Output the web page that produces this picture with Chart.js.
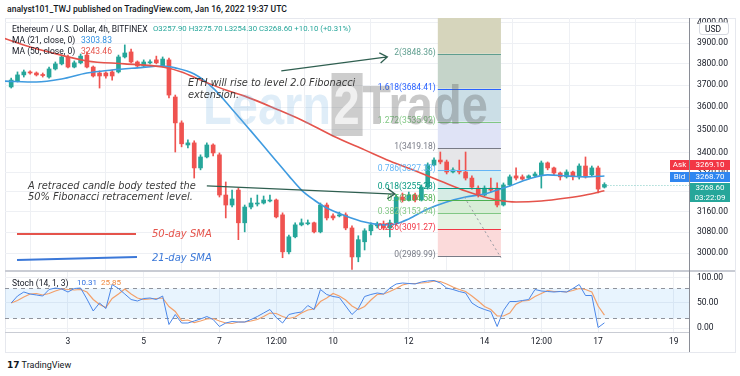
<!DOCTYPE html>
<html>
<head>
<meta charset="utf-8">
<script src="https://cdn.jsdelivr.net/npm/chart.js@4.4.1/dist/chart.umd.min.js"></script>
<style>
  body { margin: 0; background: #fff; }
  #wrap { position: relative; width: 740px; height: 376px; overflow: hidden; font-family: Roboto, "Liberation Sans", sans-serif; }
  .t { position: absolute; white-space: nowrap; line-height: 1; }
  .note { font-family: "DejaVu Sans", sans-serif; font-style: italic; font-size: 9.8px; color: #3a3a3a; }
  .tag { position: absolute; color: #fff; font-size: 8px; line-height: 10px; height: 10px; text-align: center; }
  canvas { position: absolute; }
</style>
</head>
<body>
<div id="wrap">
  <div style="position:absolute;left:5px;top:18px;width:729px;height:333px;border:1px solid #e6e8ee;"></div>
  <canvas id="main" width="730" height="253" style="left:5px;top:18px"></canvas>
  <canvas id="stoch" width="730" height="80" style="left:5px;top:272px"></canvas>
  <div style="position:absolute;left:5px;top:270px;width:730px;height:2px;background:#c9ccd4;"></div>
  <div style="position:absolute;left:5px;top:332px;width:684px;height:1px;background:#c9ccd4;"></div>
  <div style="position:absolute;left:689px;top:18px;width:1px;height:334px;background:#8a8d96;"></div>

  <div id="wm" style="position:absolute;left:203px;top:72px;font:bold 56px 'Liberation Sans';transform:scaleX(0.84);transform-origin:0 0;white-space:nowrap;">
    <span style="color:rgba(110,175,225,0.22)">Learn</span><span style="color:rgba(255,255,255,0.7);background:rgba(100,100,100,0.32);padding:0 3px;">2</span><span style="color:rgba(90,90,90,0.33)">Trade</span>
  </div>

  <div class="t" style="left:7px;top:5px;font-size:8.6px;color:#131722;font-weight:500;">analyst101_TWJ published on TradingView.com, Jan 16, 2022 19:37 UTC</div>
  <div class="t" style="left:12px;top:24.5px;font-size:8.5px;color:#131722;">Ethereum / U.S. Dollar, 4h, BITFINEX</div>
  <div class="t" style="left:153px;top:25px;font-size:7.8px;color:#26a69a;">O3257.90 H3275.70 L3254.30 C3268.60 +10.10 (+0.31%)</div>
  <div class="t" style="left:12px;top:35.5px;font-size:8.5px;color:#131722;">MA (21, close, 0)</div>
  <div class="t" style="left:81px;top:35.5px;font-size:8.5px;color:#2f8fe0;">3303.83</div>
  <div class="t" style="left:12px;top:46.5px;font-size:8.5px;color:#131722;">MA (50, close, 0)</div>
  <div class="t" style="left:81px;top:46.5px;font-size:8.5px;color:#e5534b;">3243.46</div>

  <div class="t note" style="left:188px;top:78px;">ETH will rise to level 2.0 Fibonacci</div>
  <div class="t note" style="left:188px;top:90px;">extension.</div>
  <div class="t note" style="left:28px;top:181px;">A retraced candle body tested the</div>
  <div class="t note" style="left:28px;top:192px;">50% Fibonacci retracement level.</div>
  <div style="position:absolute;left:17px;top:233px;width:119px;height:2px;background:#e5534b;"></div>
  <div class="t note" style="left:152px;top:229px;color:#e5534b;font-size:10px;">50-day SMA</div>
  <div style="position:absolute;left:17px;top:259px;width:120px;height:2px;background:#3b78d8;transform:rotate(-1.4deg);transform-origin:0 0;"></div>
  <div class="t note" style="left:152px;top:253px;color:#3b78d8;font-size:10px;">21-day SMA</div>

  <div class="t" style="left:12px;top:278.5px;font-size:8.5px;color:#131722;">Stoch (14, 1, 3)</div>
  <div class="t" style="left:77px;top:278.5px;font-size:8px;color:#2f6fe0;">10.31</div>
  <div class="t" style="left:101px;top:278.5px;font-size:8px;color:#f0883e;">25.85</div>

  <div style="position:absolute;left:699px;top:22px;width:28px;height:11px;background:#fff;border:1px solid #d6d9e0;border-radius:3px;"></div>
  <div class="t" style="left:705px;top:24.5px;font-size:8.5px;color:#131722;">USD</div>

  <div class="tag" style="left:670px;top:160px;width:19px;background:#f23645;">Ask</div>
  <div class="tag" style="left:690px;top:160px;width:40px;background:#f23645;">3269.10</div>
  <div class="tag" style="left:670px;top:172px;width:19px;background:#2f86f0;">Bid</div>
  <div class="tag" style="left:690px;top:172px;width:40px;background:#2f86f0;">3268.70</div>
  <div class="tag" style="left:690px;top:183px;width:40px;height:19px;background:#26a69a;">3268.60<br>03:22:09</div>

  <div class="t" style="left:7px;top:361px;font-size:9px;color:#131722;"><b style="font-family:'DejaVu Sans';font-size:9px;">17</b> TradingView</div>
</div>

<script>
// 4h candles, Jan 1 12:00 onwards (index 0 = first visible candle)
const candleOpen = [3692, 3719, 3748, 3762, 3757, 3750, 3738, 3776, 3800, 3833, 3785, 3805, 3842, 3785, 3757, 3757, 3762, 3762, 3833, 3857,
  3809, 3790, 3805, 3819, 3790, 3819, 3646, 3530, 3434, 3443, 3337, 3383, 3434, 3392, 3226, 3186, 3246, 3116, 3178, 3190,
  3194, 3202, 3206, 3147, 3005, 3062, 3108, 3112, 3116, 3081, 3186, 3143, 3143, 3147, 3096, 2986, 3043, 3085, 3104, 3112,
  3096, 3116, 3218, 3206, 3226, 3206, 3258, 3349, 3370, 3362, 3320, 3324, 3320, 3295, 3254, 3226, 3254, 3254, 3186, 3267,
  3304, 3300, 3295, 3304, 3308, 3358, 3337, 3316, 3300, 3320, 3300, 3345, 3308, 3337, 3257.9];
const candleHigh = [3733, 3762, 3771, 3767, 3762, 3757, 3785, 3809, 3842, 3842, 3814, 3847, 3857, 3790, 3767, 3762, 3771, 3842, 3891, 3871,
  3814, 3819, 3819, 3837, 3833, 3828, 3655, 3539, 3456, 3452, 3392, 3443, 3439, 3400, 3279, 3246, 3254, 3186, 3214, 3226,
  3222, 3226, 3210, 3155, 3069, 3116, 3131, 3127, 3119, 3194, 3194, 3151, 3158, 3155, 3104, 3066, 3093, 3116, 3119, 3123,
  3127, 3226, 3234, 3238, 3234, 3267, 3358, 3379, 3404, 3370, 3337, 3370, 3404, 3304, 3263, 3263, 3295, 3275, 3275, 3308,
  3337, 3308, 3308, 3320, 3366, 3362, 3341, 3320, 3329, 3324, 3354, 3383, 3345, 3345, 3275.7];
const candleLow = [3687, 3715, 3738, 3752, 3743, 3738, 3733, 3771, 3795, 3781, 3781, 3800, 3781, 3738, 3687, 3733, 3724, 3757, 3828, 3805,
  3781, 3785, 3800, 3800, 3785, 3642, 3404, 3426, 3421, 3295, 3329, 3379, 3387, 3218, 3135, 3178, 3051, 3081, 3170, 3182,
  3190, 3198, 3135, 2983, 2997, 3058, 3104, 3108, 3077, 3077, 3127, 3127, 3139, 3089, 2940, 2968, 3012, 3069, 3096, 3089,
  3062, 3108, 3198, 3202, 3198, 3202, 3250, 3345, 3354, 3312, 3316, 3312, 3287, 3250, 3218, 3222, 3238, 3178, 3182, 3263,
  3287, 3287, 3291, 3300, 3254, 3329, 3308, 3287, 3295, 3287, 3291, 3295, 3304, 3234, 3254.3];
const candleClose = [3724, 3748, 3762, 3757, 3748, 3745, 3776, 3800, 3833, 3785, 3805, 3837, 3785, 3743, 3743, 3743, 3743, 3833, 3852, 3809,
  3790, 3809, 3809, 3805, 3823, 3655, 3530, 3439, 3443, 3337, 3383, 3434, 3400, 3226, 3186, 3210, 3116, 3178, 3194, 3194,
  3206, 3206, 3139, 3005, 3062, 3108, 3116, 3116, 3081, 3186, 3135, 3135, 3147, 3096, 2986, 3051, 3085, 3108, 3112, 3096,
  3116, 3218, 3206, 3226, 3206, 3258, 3349, 3370, 3362, 3320, 3329, 3320, 3295, 3258, 3226, 3254, 3246, 3186, 3267, 3300,
  3295, 3291, 3304, 3312, 3358, 3337, 3316, 3300, 3320, 3300, 3345, 3300, 3337, 3250, 3268.6];

// moving averages, read at some candle indices
const ma50Idx = [-1, 2, 6, 12, 18, 24, 27, 30, 34, 37, 42, 46, 51, 56, 60, 64, 68, 72, 75, 77, 80, 84, 88, 91, 94];
const ma50Val = [3922, 3891, 3857, 3814, 3800, 3785, 3762, 3724, 3678, 3650, 3592, 3543, 3473, 3413, 3366, 3325, 3283, 3242, 3218, 3206, 3198, 3202, 3214, 3226, 3243.46];
const ma21Idx = [-1, 4, 8, 12, 16, 20, 24, 26, 29, 32, 35, 38, 40, 42, 44, 46, 48, 50, 53, 56, 59, 61, 63, 66, 69, 72, 75, 77, 79, 82, 85, 88, 91, 94];
const ma21Val = [3719, 3715, 3729, 3757, 3771, 3781, 3790, 3781, 3752, 3687, 3591, 3494, 3430, 3366, 3304, 3246, 3206, 3174, 3143, 3119, 3108, 3112, 3131, 3170, 3198, 3218, 3230, 3246, 3263, 3291, 3308, 3304, 3300, 3303.83];

// stochastic %K and %D, one value per candle
const stochK = [50, 64, 72, 68, 66, 64, 77, 80, 78, 72, 79, 80, 58, 34, 50, 39, 87, 79, 68, 57,
  54, 59, 60, 57, 64, 7, 27, 10, 10, 14, 18, 23, 17, 3, 10, 13, 12, 12, 17, 23,
  30, 37, 21, 10, 27, 30, 32, 45, 37, 77, 67, 63, 61, 44, 27, 39, 63, 67, 70, 68,
  80, 88, 90, 89, 88, 92, 94, 95, 90, 80, 77, 73, 70, 50, 42, 37, 33, 3, 35, 53,
  53, 55, 57, 77, 74, 73, 72, 73, 72, 79, 87, 65, 65, 1, 10.31];
const stochD = [50, 55, 62, 68, 69, 66, 69, 74, 78, 77, 76, 77, 72, 57, 47, 41, 59, 68, 78, 68,
  60, 57, 58, 59, 60, 43, 33, 15, 16, 11, 14, 18, 19, 14, 10, 9, 12, 12, 14, 17,
  23, 30, 29, 23, 19, 22, 30, 36, 38, 53, 60, 69, 64, 56, 44, 37, 43, 56, 67, 68,
  73, 79, 86, 89, 89, 90, 91, 94, 93, 88, 82, 77, 73, 64, 54, 43, 37, 24, 24, 30,
  47, 54, 55, 63, 69, 75, 73, 73, 72, 75, 79, 77, 72, 44, 25.85];

const tickIdx = [9, 21, 33, 42, 51, 63, 75, 84, 93, 105];
const tickText = ["3", "5", "7", "12:00", "10", "12", "14", "12:00", "17", "19"];
const priceTicks = [3000, 3080, 3160, 3240, 3320, 3400, 3500, 3600, 3700, 3800, 3900, 4000];
const stochTicks = [0, 50, 100];

// fibonacci extension drawn on the chart
const fibRatios = ["0", "0.236", "0.382", "0.5", "0.618", "0.786", "1", "1.272", "1.618", "2", "2.618"];
const fibPrices = [2989.99, 3091.27, 3153.94, 3204.58, 3255.23, 3327.33, 3419.18, 3535.92, 3684.41, 3848.36, 4113.6];
const fibLineColors = ["#787b86", "#f23645", "#81c784", "#4caf50", "#089981", "#64b5f6", "#787b86", "#81c784", "#2962ff", "#5f9e8f", "#f23645"];
const fibBandColors = ["#fbdada", "#e4f2e2", "#d8edd7", "#d6ece5", "#d7eef2", "#e6e6e9", "#dfe3f6", "#cbdee6", "#c5d4c9", "#d6d5bc"];
const fibSpan = [67.6, 77.6];
const fibTrend = [[71.8, 3218], [77.6, 2983]];
const arrows = [[[42.8, 3767], [59.6, 3833]], [[31.0, 3263], [60.8, 3230]]];

const GREEN = "#26a69a";
const RED = "#ef5350";
const X_MIN = -0.98;
const X_MAX = 107.4;

Chart.defaults.font.family = "Roboto, 'Liberation Sans', sans-serif";
Chart.defaults.font.size = 8.5;
Chart.defaults.color = "#131722";

const candleColors = candleOpen.map((o, i) => (candleClose[i] >= o ? GREEN : RED));

function xAxis(showLabels) {
  return {
    type: "linear",
    min: X_MIN,
    max: X_MAX,
    offset: false,
    afterBuildTicks: (scale) => { scale.ticks = tickIdx.map((v) => ({ value: v })); },
    afterFit: (scale) => { scale.height = showLabels ? 20 : 0; },
    grid: { color: "#eef0f4", drawTicks: false },
    border: { display: false },
    ticks: {
      display: showLabels,
      autoSkip: false,
      maxRotation: 0,
      padding: 5,
      callback: (v) => tickText[tickIdx.indexOf(v)],
    },
  };
}

function yAxisFit(scale) {
  scale.width = 46;
  scale.paddingTop = 0;
  scale.paddingBottom = 0;
}

function drawArrow(ctx, x0, y0, x1, y1) {
  const a = Math.atan2(y1 - y0, x1 - x0);
  ctx.beginPath();
  ctx.moveTo(x0, y0);
  ctx.lineTo(x1, y1);
  ctx.moveTo(x1 - 9 * Math.cos(a - 0.6), y1 - 9 * Math.sin(a - 0.6));
  ctx.lineTo(x1, y1);
  ctx.lineTo(x1 - 9 * Math.cos(a + 0.6), y1 - 9 * Math.sin(a + 0.6));
  ctx.stroke();
}

const fibPlugin = {
  id: "fib",
  beforeDatasetsDraw(chart) {
    const { ctx, chartArea, scales } = chart;
    const x0 = scales.x.getPixelForValue(fibSpan[0]);
    const x1 = scales.x.getPixelForValue(fibSpan[1]);
    ctx.save();
    ctx.beginPath();
    ctx.rect(chartArea.left, chartArea.top, chartArea.width, chartArea.height);
    ctx.clip();
    for (let k = 0; k < fibBandColors.length; k++) {
      const yb = scales.y.getPixelForValue(fibPrices[k]);
      const yt = scales.y.getPixelForValue(fibPrices[k + 1]);
      ctx.fillStyle = fibBandColors[k];
      ctx.fillRect(x0, yt, x1 - x0, yb - yt);
    }
    ctx.restore();
  },
  afterDatasetsDraw(chart) {
    const { ctx, chartArea, scales } = chart;
    const x0 = scales.x.getPixelForValue(fibSpan[0]);
    const x1 = scales.x.getPixelForValue(fibSpan[1]);
    ctx.save();
    ctx.beginPath();
    ctx.rect(chartArea.left, chartArea.top, chartArea.width, chartArea.height);
    ctx.clip();

    // last price line, from the last candle to the axis
    const last = candleClose.length - 1;
    const yc = Math.round(scales.y.getPixelForValue(candleClose[last])) + 0.5;
    ctx.strokeStyle = "rgba(38,166,154,0.6)";
    ctx.setLineDash([1, 2]);
    ctx.lineWidth = 1;
    ctx.beginPath();
    ctx.moveTo(scales.x.getPixelForValue(last), yc);
    ctx.lineTo(chartArea.right, yc);
    ctx.stroke();

    ctx.strokeStyle = "#9598a1";
    ctx.setLineDash([2, 3]);
    ctx.beginPath();
    ctx.moveTo(scales.x.getPixelForValue(fibTrend[0][0]), scales.y.getPixelForValue(fibTrend[0][1]));
    ctx.lineTo(scales.x.getPixelForValue(fibTrend[1][0]), scales.y.getPixelForValue(fibTrend[1][1]));
    ctx.stroke();
    ctx.setLineDash([]);

    ctx.font = "8.5px Roboto, 'Liberation Sans', sans-serif";
    ctx.textAlign = "right";
    ctx.textBaseline = "middle";
    for (let k = 0; k < fibPrices.length - 1; k++) {
      const y = Math.round(scales.y.getPixelForValue(fibPrices[k])) + 0.5;
      ctx.strokeStyle = fibLineColors[k];
      ctx.beginPath();
      ctx.moveTo(x0, y);
      ctx.lineTo(x1, y);
      ctx.stroke();
      ctx.fillStyle = fibLineColors[k];
      ctx.fillText(fibRatios[k] + "(" + fibPrices[k].toFixed(2) + ")", x0 - 2, y - 2);
    }

    ctx.strokeStyle = "#2f5f50";
    ctx.lineWidth = 1.3;
    arrows.forEach(([p, q]) => {
      drawArrow(ctx,
        scales.x.getPixelForValue(p[0]), scales.y.getPixelForValue(p[1]),
        scales.x.getPixelForValue(q[0]), scales.y.getPixelForValue(q[1]));
    });
    ctx.restore();
  },
};

new Chart(document.getElementById("main"), {
  type: "bar",
  data: {
    datasets: [
      {
        type: "line",
        data: ma50Idx.map((x, k) => ({ x: x, y: ma50Val[k] })),
        borderColor: "#e5534b",
        borderWidth: 1.6,
        pointRadius: 0,
        cubicInterpolationMode: "monotone",
        order: 0,
      },
      {
        type: "line",
        data: ma21Idx.map((x, k) => ({ x: x, y: ma21Val[k] })),
        borderColor: "#3f9be0",
        borderWidth: 1.6,
        pointRadius: 0,
        cubicInterpolationMode: "monotone",
        order: 0,
      },
      {
        data: candleOpen.map((o, i) => ({ x: i, y: [o, candleClose[i]] })),
        backgroundColor: candleColors,
        barThickness: 4,
        minBarLength: 1,
        grouped: false,
        order: 1,
      },
      {
        data: candleLow.map((l, i) => ({ x: i, y: [l, candleHigh[i]] })),
        backgroundColor: candleColors,
        barThickness: 1,
        grouped: false,
        order: 2,
      },
    ],
  },
  options: {
    responsive: false,
    animation: false,
    devicePixelRatio: 1,
    events: [],
    layout: { padding: 0 },
    plugins: { legend: { display: false }, tooltip: { enabled: false } },
    scales: {
      x: xAxis(false),
      y: {
        type: "logarithmic",
        position: "right",
        min: 2934,
        max: 4024,
        afterBuildTicks: (scale) => { scale.ticks = priceTicks.map((v) => ({ value: v })); },
        afterFit: yAxisFit,
        grid: { color: "#eef0f4", drawTicks: false },
        border: { display: false },
        ticks: { autoSkip: false, padding: 8, callback: (v) => Number(v).toFixed(2) },
      },
    },
  },
  plugins: [fibPlugin],
});

const bandPlugin = {
  id: "band",
  beforeDatasetsDraw(chart) {
    const { ctx, chartArea, scales } = chart;
    const y80 = Math.round(scales.y.getPixelForValue(80)) + 0.5;
    const y20 = Math.round(scales.y.getPixelForValue(20)) + 0.5;
    ctx.save();
    ctx.fillStyle = "rgba(33,150,243,0.1)";
    ctx.fillRect(chartArea.left, y80, chartArea.width, y20 - y80);
    ctx.strokeStyle = "#8f939c";
    ctx.lineWidth = 1;
    ctx.setLineDash([4, 4]);
    ctx.beginPath();
    ctx.moveTo(chartArea.left, y80);
    ctx.lineTo(chartArea.right, y80);
    ctx.moveTo(chartArea.left, y20);
    ctx.lineTo(chartArea.right, y20);
    ctx.stroke();
    ctx.restore();
  },
};

new Chart(document.getElementById("stoch"), {
  type: "line",
  data: {
    datasets: [
      {
        data: stochK.map((v, i) => ({ x: i, y: v })),
        borderColor: "#4a86e8",
        borderWidth: 1,
        pointRadius: 0,
        order: 0,
      },
      {
        data: stochD.map((v, i) => ({ x: i, y: v })),
        borderColor: "#f3a06a",
        borderWidth: 1.2,
        pointRadius: 0,
        order: 1,
      },
    ],
  },
  options: {
    responsive: false,
    animation: false,
    devicePixelRatio: 1,
    events: [],
    layout: { padding: 0 },
    plugins: { legend: { display: false }, tooltip: { enabled: false } },
    scales: {
      x: xAxis(true),
      y: {
        position: "right",
        min: -8,
        max: 112,
        afterBuildTicks: (scale) => { scale.ticks = stochTicks.map((v) => ({ value: v })); },
        afterFit: yAxisFit,
        grid: { color: "#eef0f4", drawTicks: false },
        border: { display: false },
        ticks: { autoSkip: false, padding: 8, callback: (v) => Number(v).toFixed(2) },
      },
    },
  },
  plugins: [bandPlugin],
});
</script>
</body>
</html>
